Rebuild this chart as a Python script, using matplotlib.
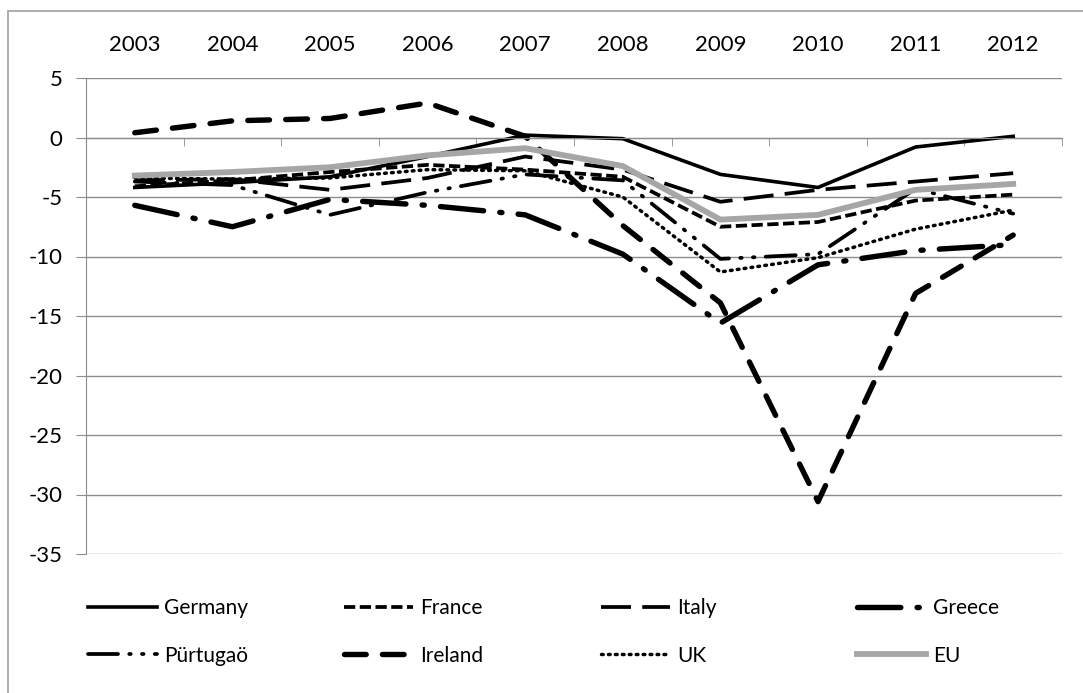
import matplotlib.pyplot as plt
import matplotlib.patches as patches

years = ["2003", "2004", "2005", "2006", "2007", "2008", "2009", "2010", "2011", "2012"]

germany = [-4.2, -3.8, -3.3, -1.6, 0.2, -0.1, -3.1, -4.2, -0.8, 0.1]
france = [-4.1, -3.6, -2.9, -2.3, -2.7, -3.3, -7.5, -7.1, -5.3, -4.8]
italy = [-3.6, -3.5, -4.4, -3.4, -1.6, -2.7, -5.4, -4.4, -3.7, -3.0]
greece = [-5.7, -7.5, -5.2, -5.7, -6.5, -9.8, -15.6, -10.7, -9.5, -9.0]
portugal = [-3.7, -4.0, -6.5, -4.6, -3.1, -3.6, -10.2, -9.8, -4.3, -6.4]
ireland = [0.4, 1.4, 1.6, 2.9, 0.1, -7.4, -13.9, -30.6, -13.1, -8.2]
uk = [-3.4, -3.5, -3.4, -2.7, -2.8, -5.0, -11.3, -10.1, -7.7, -6.1]
eu = [-3.2, -2.9, -2.5, -1.5, -0.9, -2.4, -6.9, -6.5, -4.4, -3.9]

names = ["Germany", "France", "Italy", "Greece", "Pürtugaö", "Ireland", "UK", "EU"]
series = [germany, france, italy, greece, portugal, ireland, uk, eu]

plt.rcParams['font.family'] = ['Lato', 'DejaVu Sans']
plt.rcParams['axes.unicode_minus'] = False
grid_c = "#8c8c8c"

fig = plt.figure(figsize=(10.83, 6.93), dpi=100)
ax = fig.add_axes([86 / 1083, 1 - 554 / 693, (1062 - 86) / 1083, (554 - 78) / 693])

x = range(len(years))
styles = [
    dict(color="black", lw=2.6, ls="-"),
    dict(color="black", lw=2.7, dashes=(3, 1.2)),
    dict(color="black", lw=2.7, dashes=(8, 3)),
    dict(color="black", lw=3.9, dashes=(8, 3, 0.4, 3), dash_capstyle="round"),
    dict(color="black", lw=2.7, dashes=(8, 3, 0.4, 3, 0.4, 3), dash_capstyle="round"),
    dict(color="black", lw=3.9, dashes=(4, 3), dash_capstyle="round"),
    dict(color="black", lw=2.5, dashes=(0.5, 1.5), dash_capstyle="round"),
    dict(color="#a6a6a6", lw=4.2, ls="-"),
]

lines = []
for name, vals, st in zip(names, series, styles):
    ln, = ax.plot(x, vals, label=name, solid_joinstyle="miter", **st)
    lines.append(ln)

ax.set_xlim(-0.5, 9.5)
ax.set_ylim(-35, 5)
ax.set_yticks(range(-35, 6, 5))
ax.yaxis.grid(True, color=grid_c, lw=1)
ax.set_axisbelow(True)

for s in ["top", "right"]:
    ax.spines[s].set_visible(False)
ax.spines["left"].set_color(grid_c)
ax.spines["bottom"].set_color(grid_c)
ax.spines["bottom"].set_position(("data", 0))

ax.tick_params(axis="y", direction="out", length=7, color=grid_c, labelsize=16, pad=10)
ax.set_xticks(list(x))
ax.set_xticklabels(years)
ax.tick_params(axis="x", which="major", bottom=False, top=False,
               labelbottom=False, labeltop=True, labelsize=16, pad=13)
ax.set_xticks([i - 0.5 for i in range(len(years) + 1)], minor=True)
ax.tick_params(axis="x", which="minor", direction="out", length=6, color=grid_c,
               bottom=True, top=False)

# outer chart frame
fig.patches.append(patches.Rectangle((8 / 1083, -0.05), 1.1, 1 - 11 / 693 + 0.05,
                                     transform=fig.transFigure, fill=False,
                                     edgecolor="#a0a0a0", lw=1.2))

# legend: one legend per column so columns sit at even spacing
col_x = [88, 344, 601, 857]
for c in range(4):
    h = [lines[c], lines[c + 4]]
    fig.legend(h, [names[c], names[c + 4]], loc="center left",
               bbox_to_anchor=(col_x[c] / 1083, 1 - 632 / 693),
               frameon=False, fontsize=15, handlelength=3.3,
               handletextpad=0.35, borderpad=0, borderaxespad=0,
               labelspacing=1.3)

fig.savefig("out.png", dpi=100)
